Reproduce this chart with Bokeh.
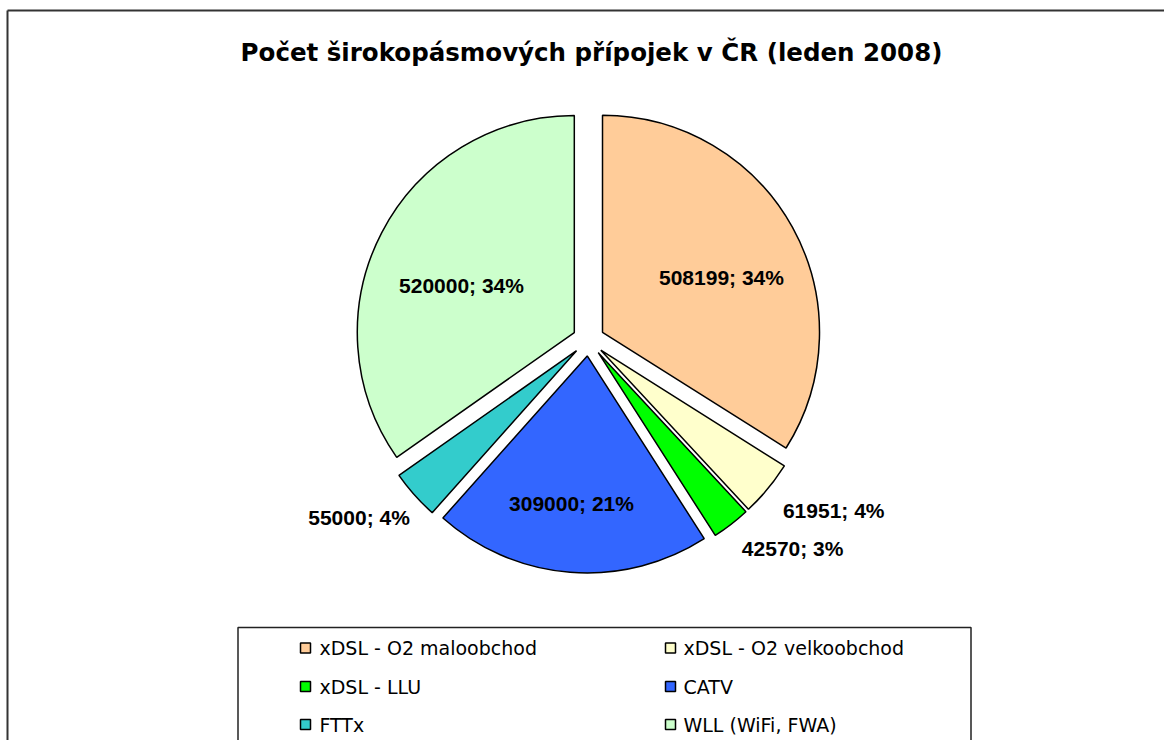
import math
from bokeh.plotting import figure
from bokeh.models import Range1d, ColumnDataSource
from bokeh.core.properties import value
from bokeh.embed import file_html
from bokeh.resources import INLINE

# ---------------- data ----------------
title = "Počet širokopásmových přípojek v ČR (leden 2008)"
categories = ["xDSL - O2 maloobchod", "xDSL - O2 velkoobchod", "xDSL - LLU",
              "CATV", "FTTx", "WLL (WiFi, FWA)"]
values = [508199, 61951, 42570, 309000, 55000, 520000]
percent_labels = [34, 4, 3, 21, 4, 34]
colors = ["#FFCC99", "#FFFFCC", "#00FF00", "#3366FF", "#33CCCC", "#CCFFCC"]

# ---------------- layout ----------------
W, H = 1164, 740
CX, CY = 588.0, H - 339.5       # pie centre (data units = pixels)
R = 217.0
EXPLODE = 16.0
# label placement: (distance in R from centre, angular shift in degrees)
label_place = [(0.677, 3.7), (1.376, -4.9), (1.346, -6.6),
               (0.758, 1.4), (1.338, 3.9), (0.637, -4.2)]

p = figure(width=W, height=H, x_range=Range1d(0, W), y_range=Range1d(0, H),
           output_backend="svg", toolbar_location=None,
           x_axis_location=None, y_axis_location=None, min_border=0)
p.grid.visible = False
p.outline_line_color = None
p.background_fill_color = "white"
p.border_fill_color = "white"

# outer chart border (top and left visible in the window)
p.line(x=[7.0, 7.0], y=[-10, H - 10], line_color="#333333", line_width=2)
p.line(x=[7.0, W + 10], y=[H - 10, H - 10], line_color="#333333", line_width=2)

# title
p.text(x=[591], y=[H - 52], text=[title], text_align="center",
       text_baseline="middle", text_font=value("DejaVu Sans"),
       text_font_style="bold", text_font_size="24.5px", text_color="black")

# pie
total = float(sum(values))
cum = 0.0
xs, ys, starts, ends, lx, ly, ltext = [], [], [], [], [], [], []
for i, v in enumerate(values):
    a0 = cum / total * 360.0
    cum += v
    a1 = cum / total * 360.0
    mid = (a0 + a1) / 2.0
    cx = CX + EXPLODE * math.sin(math.radians(mid))
    cy = CY + EXPLODE * math.cos(math.radians(mid))
    xs.append(cx)
    ys.append(cy)
    starts.append(math.radians(90.0 - a0))
    ends.append(math.radians(90.0 - a1))
    dist, shift = label_place[i]
    la = math.radians(mid + shift)
    lx.append(CX + dist * R * math.sin(la))
    ly.append(CY + dist * R * math.cos(la))
    ltext.append(f"{v}; {percent_labels[i]}%")

src = ColumnDataSource(dict(x=xs, y=ys, start=starts, end=ends, color=colors))
p.wedge(x="x", y="y", radius=R, start_angle="start", end_angle="end",
        direction="clock", fill_color="color", line_color="black",
        line_width=1.5, source=src)

p.text(x=lx, y=ly, text=ltext, text_align="center", text_baseline="middle",
       text_font=value("Liberation Sans"), text_font_style="bold",
       text_font_size="21px", text_color="black")

# legend box
LB_L, LB_R, LB_T = 237.5, 970.5, H - 627
p.line(x=[LB_L, LB_L, LB_R, LB_R], y=[-10, LB_T, LB_T, -10],
       line_color="#222222", line_width=1.5)

col_sq = [305.0, 670.0]
col_tx = [319.0, 683.0]
row_y = [H - 647.5, H - 686.0, H - 724.0]
sqx, sqy, tx, ty = [], [], [], []
for i, c in enumerate(categories):
    r, ccol = divmod(i, 2)
    sqx.append(col_sq[ccol])
    sqy.append(row_y[r])
    tx.append(col_tx[ccol])
    ty.append(row_y[r])
p.rect(x=sqx, y=sqy, width=10, height=10, fill_color=colors,
       line_color="black", line_width=1.5)
p.text(x=tx, y=ty, text=categories, text_align="left", text_baseline="middle",
       text_font=value("DejaVu Sans"), text_font_size="19px",
       text_color="black")

open("out.html", "w").write(file_html(p, INLINE))
